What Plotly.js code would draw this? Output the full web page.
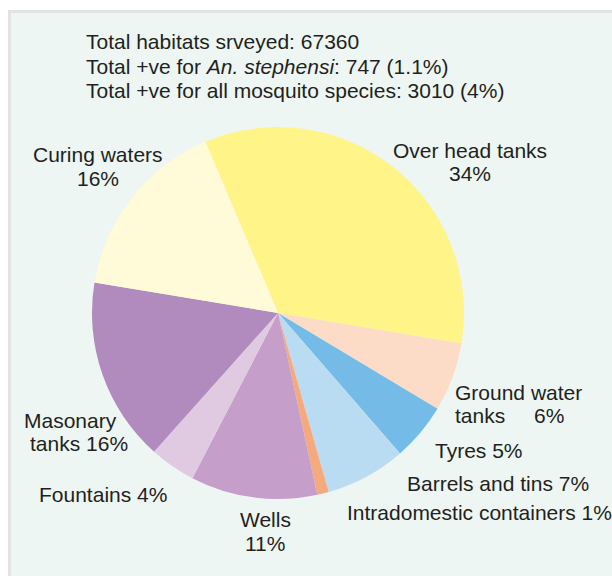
<!DOCTYPE html>
<html>
<head>
<meta charset="utf-8">
<script src="https://cdn.plot.ly/plotly-3.0.1.min.js"></script>
<style>
  html, body { margin: 0; padding: 0; background: #ffffff; }
  #chart { width: 612px; height: 576px; }
</style>
</head>
<body>
<div id="chart"></div>
<script>
// Breeding habitat categories, in clockwise order from the top
const habitats = [
  'Over head tanks',
  'Ground water tanks',
  'Tyres',
  'Barrels and tins',
  'Intradomestic containers',
  'Wells',
  'Fountains',
  'Masonary tanks',
  'Curing waters'
];

// Share of positive habitats (%)
const shares = [34, 6, 5, 7, 1, 11, 4, 16, 16];

const sliceColors = [
  '#fff488', '#fcdcc6', '#74bce7', '#badcf3', '#f7a97e',
  '#c59ec9', '#dfcae2', '#b18abe', '#fffad7'
];

// Summary lines printed above the pie
const summaryLines = [
  'Total habitats srveyed: 67360',
  'Total +ve for <i>An. stephensi</i>: 747 (1.1%)',
  'Total +ve for all mosquito species: 3010 (4%)'
];

const W = 612, H = 576;
const px = x => x / W;
const py = y => 1 - y / H;

const textColor = '#231f20';
const fontFamily = 'Liberation Sans, Arial, Helvetica, sans-serif';
const fontSize = 21;

// Pie geometry (pixels)
const cx = 278, cy = 313, r = 186;

function label(text, x, y, anchor) {
  return {
    text: text,
    xref: 'paper', yref: 'paper',
    x: px(x), y: py(y),
    xanchor: anchor || 'center', yanchor: 'middle',
    showarrow: false,
    align: anchor === 'left' ? 'left' : 'center',
    font: { family: fontFamily, size: fontSize, color: textColor }
  };
}

const annotations = [];
summaryLines.forEach((t, i) => annotations.push(label(t, 84, 42 + i * 24, 'left')));

// Slice labels: name + percentage
annotations.push(label(habitats[0], 470, 150));
annotations.push(label(shares[0] + '%', 470, 174));
annotations.push(label('Ground water', 453, 392, 'left'));
annotations.push(label('tanks', 453, 415, 'left'));
annotations.push(label(shares[1] + '%', 532, 415, 'left'));
annotations.push(label(habitats[2] + ' ' + shares[2] + '%', 433, 450, 'left'));
annotations.push(label(habitats[3] + ' ' + shares[3] + '%', 405, 483, 'left'));
annotations.push(label(habitats[4] + ' ' + shares[4] + '%', 345, 512, 'left'));
annotations.push(label(habitats[5], 265, 519));
annotations.push(label(shares[5] + '%', 265, 543));
annotations.push(label(habitats[6] + ' ' + shares[6] + '%', 37, 494, 'left'));
annotations.push(label('Masonary', 22, 420, 'left'));
annotations.push(label('tanks ' + shares[7] + '%', 28, 443, 'left'));
annotations.push(label(habitats[8], 98, 154));
annotations.push(label(shares[8] + '%', 98, 178));

const trace = {
  type: 'pie',
  labels: habitats,
  values: shares,
  sort: false,
  direction: 'clockwise',
  rotation: -23,
  textinfo: 'none',
  hoverinfo: 'label+percent',
  marker: { colors: sliceColors, line: { width: 0 } },
  domain: {
    x: [px(cx - r), px(cx + r)],
    y: [py(cy + r), py(cy - r)]
  }
};

const layout = {
  width: W, height: H,
  margin: { l: 0, r: 0, t: 0, b: 0, pad: 0 },
  paper_bgcolor: '#ffffff',
  showlegend: false,
  shapes: [
    // panel border and fill
    { type: 'rect', xref: 'paper', yref: 'paper', layer: 'below',
      x0: px(8), x1: 1.02, y0: -0.02, y1: py(10),
      fillcolor: '#e2e4e3', line: { width: 0 } },
    { type: 'rect', xref: 'paper', yref: 'paper', layer: 'below',
      x0: px(11), x1: 1.02, y0: -0.02, y1: py(13),
      fillcolor: '#edf6f2', line: { width: 0 } }
  ],
  annotations: annotations
};

Plotly.newPlot('chart', [trace], layout, { displayModeBar: false, staticPlot: true });
</script>
</body>
</html>
